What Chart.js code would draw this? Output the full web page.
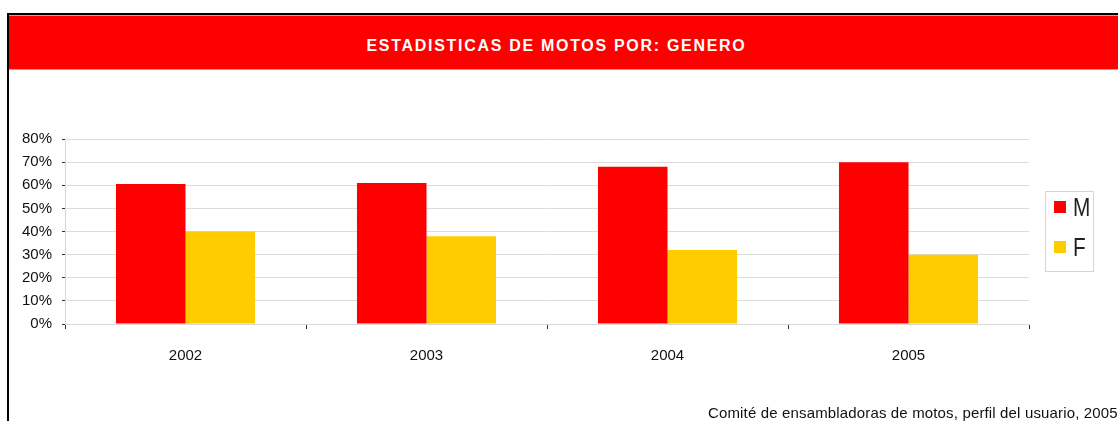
<!DOCTYPE html>
<html>
<head>
<meta charset="utf-8">
<script src="https://cdn.jsdelivr.net/npm/chart.js@4.4.1/dist/chart.umd.min.js"></script>
<style>
  html, body { margin: 0; padding: 0; width: 1118px; height: 421px; overflow: hidden; background: #fff; }
  .frame { position: absolute; left: 7px; top: 13px; width: 1200px; height: 500px;
           border-left: 2px solid #000; border-top: 2px solid #000; }
  .header { position: absolute; left: 9px; top: 15px; width: 1200px; height: 55px; background: #ff0000;
            border-top: 1px solid #f88; border-bottom: 1px solid #f88; box-sizing: border-box; }
  .title { position: absolute; left: 9px; top: 37px; width: 1095px; text-align: center;
           color: #fff; font: bold 16px "Liberation Sans", Arial, sans-serif; letter-spacing: 1.7px; }
  #wrap { position: absolute; left: 0; top: 0; width: 1118px; height: 421px; }
  .legend { position: absolute; left: 1045px; top: 191px; width: 47px; height: 79px;
            border: 1px solid #d4d4d4; font-family: "Liberation Sans", Arial, sans-serif; }
  .legend .item { position: absolute; left: 8px; height: 26px; display: flex; align-items: center; }
  .legend .sw { width: 12px; height: 12px; margin-right: 7px; }
  .legend .lbl { font-size: 26px; color: #222; display: inline-block; transform: scaleX(0.8); transform-origin: left center; }
  .source { position: absolute; left: 708px; top: 404px; white-space: nowrap; color: #111;
            font: 15px "Liberation Sans", Arial, sans-serif; letter-spacing: 0.15px; }
</style>
</head>
<body>
<div class="frame"></div>
<div class="header"></div>
<div class="title">ESTADISTICAS DE MOTOS POR: GENERO</div>
<div id="wrap"><canvas id="chart"></canvas></div>
<div class="legend" id="legend"></div>
<div class="source">Comité de ensambladoras de motos, perfil del usuario, 2005</div>

<script>
const years   = ['2002', '2003', '2004', '2005'];
const seriesM = [60.5, 61, 68, 70];
const seriesF = [40, 38, 32, 30];
const yTicks  = [0, 10, 20, 30, 40, 50, 60, 70, 80];

const RED    = '#ff0000';
const YELLOW = '#ffcc00';
const FONT   = '"Liberation Sans", Arial, sans-serif';

const datasets = [
  { label: 'M', data: seriesM, backgroundColor: RED },
  { label: 'F', data: seriesF, backgroundColor: YELLOW },
];

new Chart(document.getElementById('chart'), {
  type: 'bar',
  data: { labels: years, datasets },
  options: {
    responsive: true, maintainAspectRatio: false, animation: false,
    layout: { padding: { top: 139, right: 89, left: 0, bottom: 0 } },
    datasets: { bar: { categoryPercentage: 0.577, barPercentage: 1 } },
    plugins: { legend: { display: false }, tooltip: { enabled: false } },
    scales: {
      x: {
        offset: true,
        grid: { drawOnChartArea: false, drawTicks: true, tickLength: 5, tickColor: '#333', offset: true },
        border: { color: '#d9d9d9' },
        ticks: { color: '#111', font: { family: FONT, size: 15 }, padding: 18 },
        afterFit: s => { s.height = 97; },
      },
      y: {
        min: 0, max: 80,
        afterBuildTicks: s => { s.ticks = yTicks.map(v => ({ value: v })); },
        grid: { color: '#dcdcdc', tickLength: 3, tickColor: '#333' },
        border: { color: '#d9d9d9' },
        ticks: { color: '#111', font: { family: FONT, size: 15 }, padding: 10, callback: v => v + '%' },
        afterFit: s => { s.width = 65; },
      },
    },
  },
});

// legend built from the datasets
const legendEl = document.getElementById('legend');
datasets.forEach((d, i) => {
  const item = document.createElement('div');
  item.className = 'item';
  item.style.top = (2 + i * 40) + 'px';
  item.innerHTML = `<span class="sw" style="background:${d.backgroundColor}"></span><span class="lbl">${d.label}</span>`;
  legendEl.appendChild(item);
});
</script>
</body>
</html>
